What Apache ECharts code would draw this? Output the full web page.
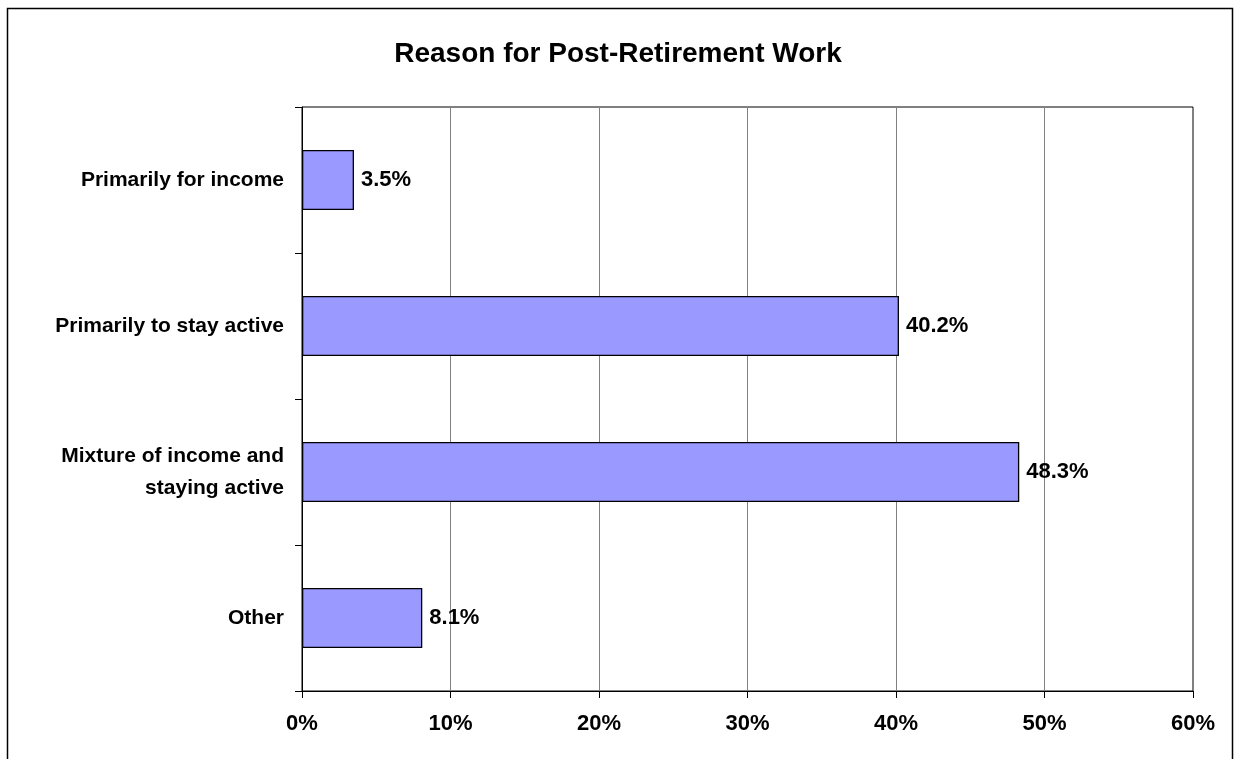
<!DOCTYPE html>
<html>
<head>
<meta charset="utf-8">
<script src="https://cdn.jsdelivr.net/npm/echarts@6/dist/echarts.min.js"></script>
<style>
html,body{margin:0;padding:0;background:#fff;}
#chart{width:1236px;height:759px;}
</style>
</head>
<body>
<div id="chart"></div>
<script>
const titleText = 'Reason for Post-Retirement Work';
const categories = ['Primarily for income', 'Primarily to stay active', 'Mixture of income and\nstaying active', 'Other'];
const values = [3.5, 40.2, 48.3, 8.1];
const xMin = 0, xMax = 60, xStep = 10;

const font = '"Liberation Sans", Arial, sans-serif';
const chart = echarts.init(document.getElementById('chart'), null, {renderer: 'canvas'});
chart.setOption({
  backgroundColor: '#fff',
  animation: false,
  title: {
    text: titleText,
    left: 'center',
    top: 35,
    textStyle: {fontFamily: font, fontSize: 28, fontWeight: 'bold', color: '#000'}
  },
  graphic: [{
    type: 'rect',
    shape: {x: 7.5, y: 8.5, width: 1225, height: 800},
    style: {fill: 'none', stroke: '#000', lineWidth: 1.5},
    silent: true
  }],
  grid: {
    left: 302, right: 43, top: 107, bottom: 68,
    show: true, borderColor: '#000', borderWidth: 1, backgroundColor: 'transparent'
  },
  xAxis: {
    type: 'value',
    min: xMin, max: xMax, interval: xStep,
    axisLine: {show: true, lineStyle: {color: '#000', width: 1}},
    axisTick: {show: true, length: 7, lineStyle: {color: '#000'}},
    splitLine: {show: true, lineStyle: {color: '#808080', width: 1}},
    axisLabel: {
      formatter: '{value}%', margin: 22,
      fontFamily: font, fontSize: 22, fontWeight: 'bold', color: '#000'
    }
  },
  yAxis: {
    type: 'category',
    data: categories,
    inverse: true,
    axisLine: {show: true, lineStyle: {color: '#000', width: 1}},
    axisTick: {show: true, length: 7, lineStyle: {color: '#000'}},
    axisLabel: {
      margin: 18, fontFamily: font, fontSize: 21, fontWeight: 'bold', color: '#000',
      lineHeight: 32, align: 'right'
    }
  },
  series: [{
    type: 'bar',
    data: values,
    barWidth: '41%',
    itemStyle: {color: '#9999FF', borderColor: '#000', borderWidth: 1.3},
    label: {
      show: true, position: 'right', distance: 7,
      formatter: p => p.value.toFixed(1) + '%',
      fontFamily: font, fontSize: 22, fontWeight: 'bold', color: '#000'
    }
  }]
});
</script>
</body>
</html>
